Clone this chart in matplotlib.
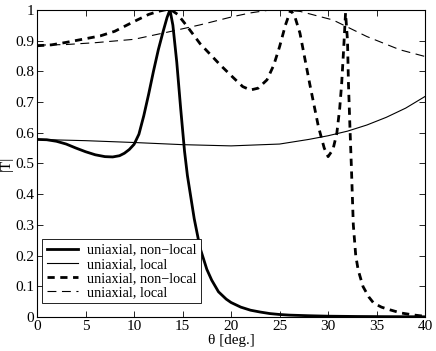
import numpy as np
import matplotlib
matplotlib.use('Agg')
import matplotlib.pyplot as plt

plt.rcParams['font.family'] = ['Liberation Serif', 'DejaVu Serif']

# uniaxial, non-local (thick solid)
theta_nl1 = [0, 1, 2, 3, 4, 5, 6, 7, 7.8, 8.5, 9, 9.5, 10, 10.5, 11, 11.5, 12, 12.5, 13, 13.4,
             13.7, 14.0, 14.4, 14.8, 15.2, 15.5, 15.8, 16.2, 16.8, 17.5, 18, 18.7, 19.5, 20,
             21, 22, 23, 24, 25, 26, 28, 30, 33, 36, 40]
T_nl1 = [0.578, 0.577, 0.572, 0.563, 0.550, 0.538, 0.528, 0.522, 0.521, 0.525, 0.533, 0.545,
         0.562, 0.595, 0.655, 0.725, 0.80, 0.87, 0.93, 0.975,
         1.0, 0.95, 0.83, 0.68, 0.54, 0.46, 0.40, 0.32, 0.225, 0.155, 0.12, 0.082, 0.058,
         0.047, 0.032, 0.022, 0.016, 0.011, 0.008, 0.006, 0.004, 0.0025, 0.0015, 0.001, 0.0005]

# uniaxial, local (thin solid)
theta_l1 = [0, 5, 10, 15, 20, 25, 28, 30, 32, 34, 36, 38, 40]
T_l1 = [0.578, 0.574, 0.568, 0.561, 0.557, 0.563, 0.578, 0.59, 0.605, 0.625, 0.65, 0.68, 0.718]

# uniaxial, non-local (thick dashed)
theta_nl2 = [0, 1.5, 3, 4.5, 6.5, 8, 10, 11.5, 12.5, 13.2, 13.8, 14.5, 15.5, 16.8, 18, 18.9,
             20.2, 21.2, 22, 22.8, 23.7, 24.4, 25, 25.6, 26.15, 26.6, 27.1, 28.1, 29, 29.6,
             30, 30.5, 30.9, 31.2, 31.4, 31.6, 31.8, 32.0, 32.1, 32.25, 32.4, 32.6, 32.85, 33.1,
             33.6, 34.2, 34.7, 35.5, 36.4, 37.5, 38.8, 40]
T_nl2 = [0.883, 0.886, 0.894, 0.903, 0.915, 0.93, 0.962, 0.985, 0.995, 1.0, 1.0, 0.985, 0.945,
         0.89, 0.85, 0.82, 0.78, 0.75, 0.739, 0.745, 0.772, 0.82, 0.88, 0.95, 1.0, 0.975, 0.924,
         0.76, 0.62, 0.55, 0.522, 0.545, 0.598, 0.68, 0.76, 0.87, 0.99, 0.90, 0.76, 0.62, 0.49,
         0.30, 0.20, 0.153, 0.099, 0.065, 0.045, 0.032, 0.023, 0.013, 0.0065, 0.002]

# uniaxial, local (thin dashed)
theta_l2 = [0, 3, 6, 10, 13.4, 16.8, 20.2, 22, 23.7, 25, 27.1, 30.5, 34, 37.4, 40]
T_l2 = [0.885, 0.887, 0.893, 0.904, 0.927, 0.951, 0.978, 0.99, 0.998, 1.0, 0.995, 0.967, 0.913,
        0.87, 0.848]

labels = ['uniaxial, non\u2212local', 'uniaxial, local', 'uniaxial, non\u2212local', 'uniaxial, local']

fig = plt.figure(figsize=(4.36, 3.51), dpi=100)
ax = fig.add_axes([0.085, 0.097, 0.89, 0.875])

ax.plot(theta_nl1, T_nl1, color='k', lw=2.0, label=labels[0])
ax.plot(theta_l1, T_l1, color='k', lw=0.8, label=labels[1])
ax.plot(theta_nl2, T_nl2, color='k', lw=2.0, linestyle=(0, (2.6, 2.0)), label=labels[2])
ax.plot(theta_l2, T_l2, color='k', lw=0.8, linestyle=(0, (8, 5)), label=labels[3])

ax.set_xlim(0, 40)
ax.set_ylim(0, 1)
ax.set_xticks(np.arange(0, 41, 5))
ax.set_yticks(np.arange(0, 1.01, 0.1))
ax.set_yticklabels(['0', '0.1', '0.2', '0.3', '0.4', '0.5', '0.6', '0.7', '0.8', '0.9', '1'])
ax.tick_params(direction='in', top=True, right=True, length=4, width=0.6, labelsize=11, pad=2)
for s in ax.spines.values():
    s.set_linewidth(0.8)

ax.set_xlabel('\u03b8 [deg.]', fontsize=11, labelpad=1)
ax.set_ylabel('|T|', fontsize=11, labelpad=2)

leg = ax.legend(loc='lower left', bbox_to_anchor=(0.014, 0.044), borderaxespad=0,
                fontsize=10.3, frameon=True, fancybox=False, edgecolor='k',
                framealpha=1, handlelength=2.2, labelspacing=0.08,
                borderpad=0.3, handletextpad=0.6)
leg.get_frame().set_linewidth(0.6)

fig.savefig('out.png', dpi=100)
